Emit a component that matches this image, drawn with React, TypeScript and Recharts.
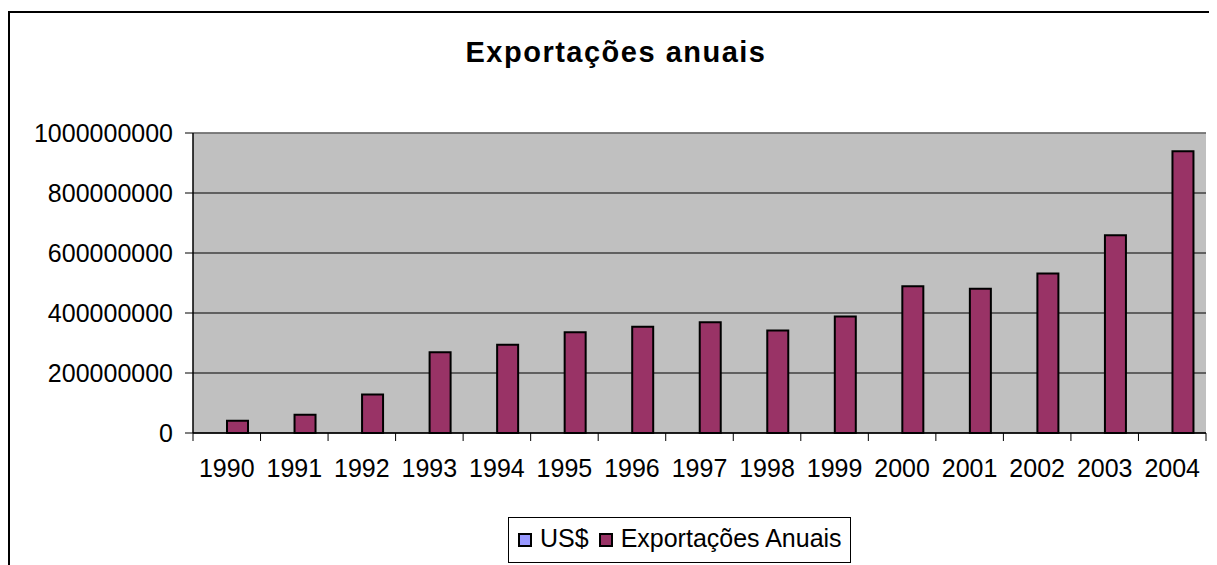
import React from 'react';
import { BarChart, Bar, XAxis, YAxis, CartesianGrid, ReferenceLine, Legend } from 'recharts';

const years = ['1990', '1991', '1992', '1993', '1994', '1995', '1996', '1997', '1998', '1999', '2000', '2001', '2002', '2003', '2004'];
const usd = [0, 0, 0, 0, 0, 0, 0, 0, 0, 0, 0, 0, 0, 0, 0];
const exportacoes = [41000000, 61000000, 128000000, 269000000, 294000000, 336000000, 354000000, 369000000, 342000000, 388000000, 489000000, 481000000, 532000000, 659000000, 939000000];
const yTicks = [0, 200000000, 400000000, 600000000, 800000000, 1000000000];
const seriesNames = ['US$', 'Exportações Anuais'];

const data = years.map((year, i) => ({ year, usd: usd[i], exp: exportacoes[i] }));

const FONT = "'Liberation Sans', Arial, Helvetica, sans-serif";
const X_TICK_MARGIN = 20;
const X_TICK_LEN = 8;

const CategoryTick = (props: any) => {
  const { x, y, payload, index } = props;
  const half = payload && typeof payload.offset === 'number' ? payload.offset : 0;
  const axisY = y - X_TICK_MARGIN;
  const isLast = index === years.length - 1;
  return (
    <g>
      <line x1={x - half} x2={x - half} y1={axisY} y2={axisY + X_TICK_LEN} stroke="#000" strokeWidth={1} />
      {isLast && (
        <line x1={x + half} x2={x + half} y1={axisY} y2={axisY + X_TICK_LEN} stroke="#000" strokeWidth={1} />
      )}
      <text x={x} y={y + 6} dy="0.71em" textAnchor="middle" fill="#000" fontSize={25}>
        {payload.value}
      </text>
    </g>
  );
};

const renderLegend = (props: any) => {
  const payload = [...(props.payload || [])].sort(
    (a: any, b: any) => seriesNames.indexOf(a.value) - seriesNames.indexOf(b.value)
  );
  return (
    <div
      style={{
        boxSizing: 'border-box',
        width: 343,
        height: 46,
        border: '1px solid #000',
        background: '#fff',
        display: 'flex',
        alignItems: 'center',
        paddingLeft: 9,
        fontSize: 25,
        fontFamily: FONT,
        color: '#000',
      }}
    >
      {payload.map((p: any, i: number) => (
        <span key={i} style={{ display: 'flex', alignItems: 'center', marginRight: 10 }}>
          <span
            style={{
              display: 'inline-block',
              width: 14,
              height: 14,
              boxSizing: 'border-box',
              border: '2px solid #000',
              background: p.color,
              marginRight: 8,
            }}
          />
          <span style={{ position: 'relative', top: -2, whiteSpace: 'nowrap' }}>{p.value}</span>
        </span>
      ))}
    </div>
  );
};

export default function App() {
  return (
    <div style={{ position: 'relative', width: 1209, height: 557, overflow: 'hidden', fontFamily: FONT, background: '#fff' }}>
      <div
        style={{
          position: 'absolute',
          left: 0,
          top: 3,
          width: 1300,
          height: 700,
          borderLeft: '2px solid #000',
          borderTop: '2px solid #000',
        }}
      />
      <div
        style={{
          position: 'absolute',
          left: 0,
          top: 30,
          width: 1216,
          textAlign: 'center',
          fontSize: 29,
          lineHeight: '29px',
          fontWeight: 'bold',
          letterSpacing: 1.5,
          color: '#000',
          whiteSpace: 'nowrap',
        }}
      >
        Exportações anuais
      </div>
      <div style={{ position: 'absolute', left: 0, top: 0 }}>
        <BarChart
          width={1209}
          height={557}
          data={data}
          margin={{ top: 125, right: 11, left: 0, bottom: 84 }}
          barGap={0}
          barSize={21}
        >
          <CartesianGrid vertical={false} fill="#C0C0C0" stroke="#000" strokeWidth={1} />
          <XAxis
            dataKey="year"
            tickLine={false}
            axisLine={{ stroke: '#000', strokeWidth: 1.5 }}
            tickSize={0}
            tickMargin={X_TICK_MARGIN}
            height={48}
            interval={0}
            tick={<CategoryTick />}
          />
          <YAxis
            domain={[0, 1000000000]}
            ticks={yTicks}
            interval={0}
            width={185}
            tickSize={8}
            tickMargin={12}
            tickLine={{ stroke: '#000' }}
            axisLine={{ stroke: '#000', strokeWidth: 1.5 }}
            tick={{ fill: '#000', fontSize: 25 }}
          />
          <YAxis
            yAxisId="right"
            orientation="right"
            domain={[0, 1000000000]}
            width={0}
            tick={false}
            tickLine={false}
            axisLine={{ stroke: '#808080', strokeWidth: 1.5 }}
          />
          <ReferenceLine y={1000000000} stroke="#808080" strokeWidth={1.5} />
          <Bar dataKey="usd" name="US$" fill="#9999FF" stroke="#000" strokeWidth={2} isAnimationActive={false} />
          <Bar dataKey="exp" name="Exportações Anuais" fill="#993366" stroke="#000" strokeWidth={2} isAnimationActive={false} />
          <Legend
            layout="horizontal"
            verticalAlign="middle"
            align="center"
            wrapperStyle={{ left: 500, top: 509, width: 343, height: 46 }}
            content={renderLegend}
          />
        </BarChart>
      </div>
    </div>
  );
}
